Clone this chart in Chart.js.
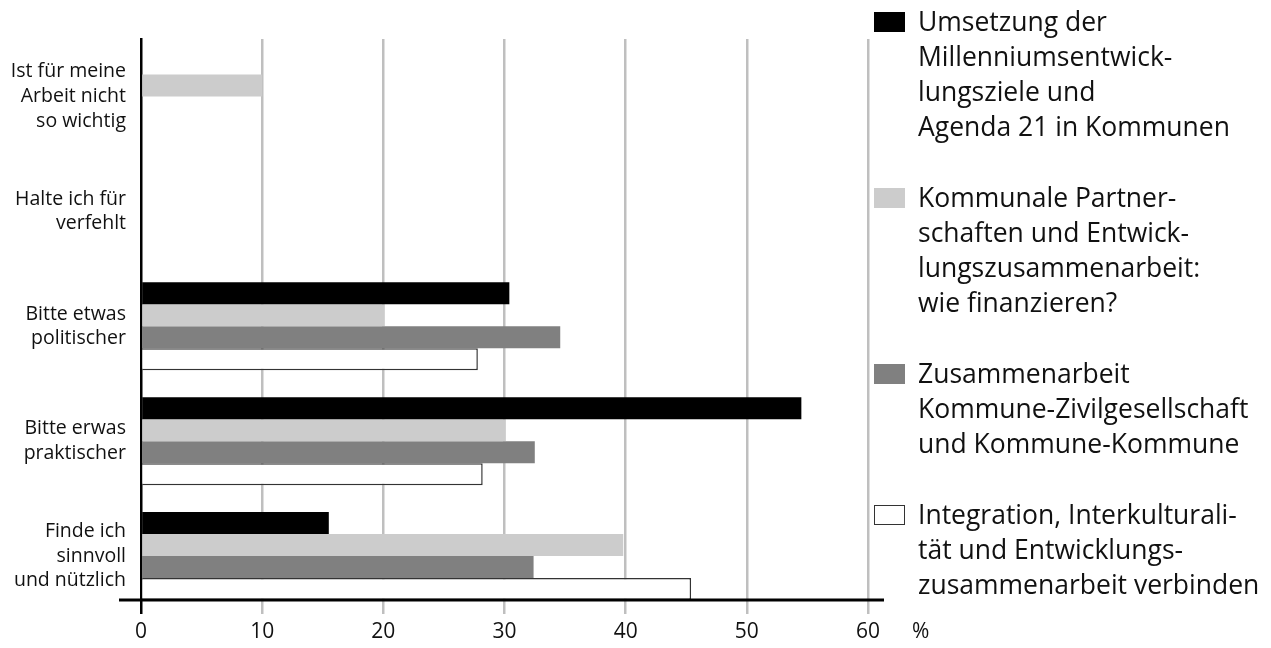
<!DOCTYPE html>
<html lang="de">
<head>
<meta charset="utf-8">
<title>Bewertung der Veranstaltungen</title>
<script src="https://cdn.jsdelivr.net/npm/chart.js@4/dist/chart.umd.min.js"></script>
<style>
  body { margin: 0; background: #fff; font-family: "Open Sans", sans-serif; }
  #wrap { position: relative; width: 1271px; height: 648px; }
  #legend { position: absolute; left: 874px; top: 4px; color: #111; }
  .item { display: flex; align-items: flex-start; margin-bottom: 36px; }
  .swatch { width: 31px; height: 20px; margin-top: 8px; margin-right: 13px; box-sizing: border-box; flex: none; }
  .text { font-size: 26.5px; line-height: 35px; }
</style>
</head>
<body>
<div id="wrap">
  <canvas id="chart"></canvas>
  <div id="legend"></div>
</div>
<script>
const categories = [
  ['Ist für meine', 'Arbeit nicht', 'so wichtig'],
  ['Halte ich für', 'verfehlt'],
  ['Bitte etwas', 'politischer'],
  ['Bitte erwas', 'praktischer'],
  ['Finde ich', 'sinnvoll', 'und nützlich']
];

const seriesNames = [
  ['Umsetzung der', 'Millenniumsentwick-', 'lungsziele und', 'Agenda 21 in Kommunen'],
  ['Kommunale Partner-', 'schaften und Entwick-', 'lungszusammenarbeit:', 'wie finanzieren?'],
  ['Zusammenarbeit', 'Kommune-Zivilgesellschaft', 'und Kommune-Kommune'],
  ['Integration, Interkulturali-', 'tät und Entwicklungs-', 'zusammenarbeit verbinden']
];

// percent per answer, one array per event
const umsetzung       = [0, 0, 30.4, 54.5, 15.5];
const partnerschaften = [10, 0, 20.1, 30.1, 39.8];
const zusammenarbeit  = [0, 0, 34.6, 32.5, 32.4];
const integration     = [0, 0, 27.8, 28.2, 45.4];

const xTicks = [0, 10, 20, 30, 40, 50, 60];

const fills   = ['#000000', '#cccccc', '#808080', '#ffffff'];
const borders = ['#000000', '#cccccc', '#808080', '#333333'];
const values  = [umsetzung, partnerschaften, zusammenarbeit, integration];

const datasets = values.map((v, i) => ({
    label: seriesNames[i].join(' '),
    data: v,
    backgroundColor: fills[i],
    borderColor: borders[i],
    borderWidth: i === 3 ? 1.5 : 0,
    barPercentage: 1,
    categoryPercentage: 0.766
}));

// axis line under the lowest bar, plus the unit next to the last tick
const axisExtras = {
    id: 'axisExtras',
    afterDraw(chart) {
        const ctx = chart.ctx;
        const area = chart.chartArea;
        const meta = chart.getDatasetMeta(chart.data.datasets.length - 1);
        const last = meta.data[meta.data.length - 1];
        const y = last.y + last.height / 2;
        ctx.save();
        ctx.strokeStyle = '#000';
        ctx.lineWidth = 3;
        ctx.beginPath();
        ctx.moveTo(area.left - 22, y);
        ctx.lineTo(area.right + 16, y);
        ctx.stroke();
        const xs = chart.scales.x;
        ctx.fillStyle = '#111';
        ctx.font = '21px "Open Sans"';
        ctx.textBaseline = 'middle';
        ctx.textAlign = 'left';
        ctx.fillText('%', xs.getPixelForValue(60) + 44, area.bottom + 19);
        ctx.restore();
    }
};

const chart = new Chart(document.getElementById('chart'), {
    type: 'bar',
    data: { labels: categories, datasets: datasets },
    options: {
        indexAxis: 'y',
        responsive: true,
        maintainAspectRatio: false,
        animation: false,
        layout: { padding: { top: 39, right: 403, bottom: 0, left: 0 } },
        plugins: { legend: { display: false }, tooltip: { enabled: false } },
        scales: {
            x: {
                min: 0,
                max: 60,
                afterBuildTicks: s => { s.ticks = xTicks.map(v => ({ value: v })); },
                afterFit: s => { s.height = 34.5; },
                border: { display: false },
                grid: {
                    drawTicks: false,
                    color: c => c.tick && c.tick.value === 0 ? 'rgba(0,0,0,0)' : '#bfbfbf',
                    lineWidth: 2.5
                },
                ticks: {
                    padding: 6,
                    color: '#111',
                    font: { family: 'Open Sans', size: 21 }
                }
            },
            y: {
                afterFit: s => {
                    s.width = 141;
                    s.paddingTop = 0;
                    s.paddingBottom = 0;
                },
                border: { display: true, color: '#000', width: 2.5 },
                grid: { display: false, drawTicks: false },
                ticks: {
                    padding: 15,
                    color: '#111',
                    font: { family: 'Open Sans', size: 19.5, lineHeight: 1.26 }
                }
            }
        }
    },
    plugins: [axisExtras]
});

// legend with the hand-broken series names
const legend = document.getElementById('legend');
chart.data.datasets.forEach((ds, i) => {
    const item = document.createElement('div');
    item.className = 'item';
    const sw = document.createElement('div');
    sw.className = 'swatch';
    sw.style.background = ds.backgroundColor;
    if (i === 3) sw.style.border = '1.5px solid #333';
    const txt = document.createElement('div');
    txt.className = 'text';
    txt.innerHTML = seriesNames[i].join('<br>');
    item.appendChild(sw);
    item.appendChild(txt);
    legend.appendChild(item);
});
</script>
</body>
</html>
